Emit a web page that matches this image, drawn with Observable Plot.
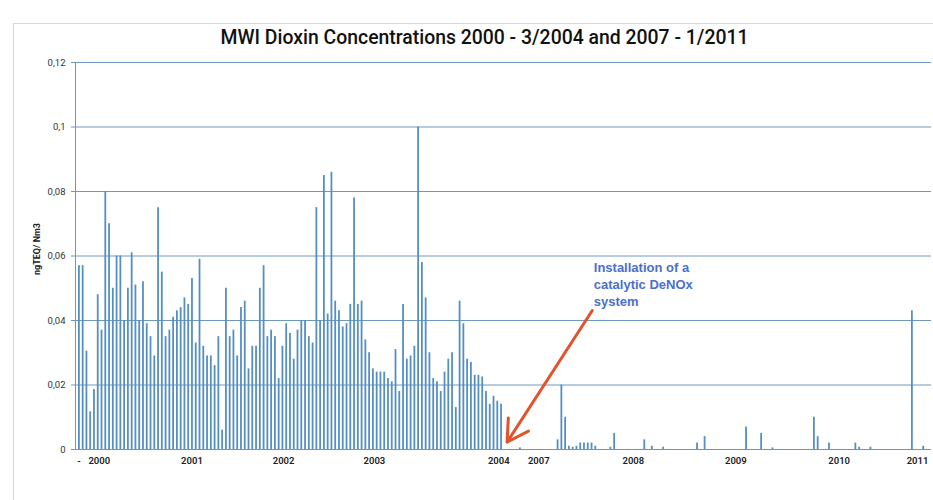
<!DOCTYPE html>
<html>
<head>
<meta charset="utf-8">
<script src="https://cdn.jsdelivr.net/npm/d3@7"></script>
<script src="https://cdn.jsdelivr.net/npm/@observablehq/plot@0.6"></script>
<style>
  body { margin: 0; background: #fff; }
  #wrap { position: relative; width: 933px; height: 500px; overflow: hidden; font-family: Roboto, "Liberation Sans", sans-serif; }
  #frame { position: absolute; left: 13px; top: 23px; width: 940px; height: 500px; border: 1px solid #d3d7de; }
  #title { position: absolute; left: 18px; width: 933px; top: 26px; text-align: center; font-size: 19.4px; font-weight: 500; color: #111; white-space: nowrap; }
  #chart { position: absolute; left: 0; top: 55px; }
</style>
</head>
<body>
<div id="wrap">
  <div id="frame"></div>
  <div id="title">MWI Dioxin Concentrations 2000 - 3/2004 and 2007 - 1/2011</div>
  <div id="chart"></div>
</div>
<script>
// Period 1: consecutive samples 2000 – 3/2004 (ngTEQ/Nm3), one per slot starting at slot 0
const period1Values = [
  0.057, 0.057, 0.0305, 0.0117, 0.0186, 0.048, 0.037, 0.080, 0.070, 0.050,
  0.060, 0.060, 0.040, 0.050, 0.061, 0.051, 0.040, 0.052, 0.039, 0.035,
  0.029, 0.075, 0.055, 0.035, 0.037, 0.041, 0.043, 0.044, 0.047, 0.045,
  0.053, 0.033, 0.059, 0.032, 0.029, 0.029, 0.026, 0.035, 0.006, 0.050,
  0.035, 0.037, 0.029, 0.044, 0.046, 0.025, 0.032, 0.032, 0.050, 0.057,
  0.035, 0.037, 0.035, 0.022, 0.032, 0.039, 0.036, 0.028, 0.037, 0.040,
  0.040, 0.035, 0.033, 0.075, 0.040, 0.085, 0.042, 0.086, 0.046, 0.043,
  0.038, 0.039, 0.045, 0.078, 0.045, 0.046, 0.034, 0.030, 0.025, 0.024,
  0.024, 0.024, 0.022, 0.021, 0.031, 0.018, 0.045, 0.028, 0.029, 0.032,
  0.100, 0.058, 0.047, 0.030, 0.022, 0.021, 0.018, 0.024, 0.028, 0.030,
  0.013, 0.046, 0.039, 0.028, 0.027, 0.023, 0.023, 0.0225, 0.018, 0.014,
  0.0165, 0.015, 0.014
];

// Period 2: 2007 – 1/2011 samples (slot index on the category axis, value)
const period2Slots  = [117, 127, 128, 129, 130, 131, 132, 133, 134, 135, 136, 137, 141, 142, 150, 152, 155, 164, 166, 177, 181, 184, 195, 196, 199, 206, 207, 210, 221, 224];
const period2Values = [0.0005, 0.003, 0.020, 0.010, 0.001, 0.0007, 0.001, 0.002, 0.002, 0.002, 0.002, 0.001, 0.0007, 0.005, 0.003, 0.001, 0.0007, 0.002, 0.004, 0.007, 0.005, 0.0005, 0.010, 0.004, 0.002, 0.002, 0.0007, 0.0007, 0.043, 0.001];

// Category axis labels and their slot positions
const xTickLabels = ["-", "2000", "2001", "2002", "2003", "2004", "2007", "2008", "2009", "2010", "2011"];
const xTickSlots  = [0, 5.4, 30, 54.3, 78.4, 111.4, 122, 147.1, 174.3, 201.7, 222.5];

// Value axis
const yTicks = [0, 0.02, 0.04, 0.06, 0.08, 0.1, 0.12];
const yTickLabels = ["0", "0,02", "0,04", "0,06", "0,08", "0,1", "0,12"];
const yLabel = "ngTEQ/ Nm3";

// Annotation
const noteText = "Installation of a\ncatalytic DeNOx\nsystem";
const noteAt = {slot: 136.6, value: 0.0588};
const arrowFrom = {slot: 136.2, value: 0.0431};
const arrowTo = {slot: 113.6, value: 0.0023};

// ---- build
const bars = [
  ...period1Values.map((v, i) => ({slot: i, value: v})),
  ...period2Slots.map((s, i) => ({slot: s, value: period2Values[i]}))
];
const xTicks = xTickLabels.map((l, i) => ({label: l, slot: xTickSlots[i]}));
const xDomain = [-0.9, 226.2];

const gridColor = "#6f98bf";
const axisColor = "#6f95b8";
const barColor = "#558fc2";

const chart = Plot.plot({
  width: 933,
  height: 445,
  marginLeft: 75,
  marginRight: 2,
  marginTop: 7,
  marginBottom: 51,
  x: {type: "linear", domain: xDomain, axis: null},
  y: {domain: [0, 0.12], axis: null},
  style: {fontFamily: "Roboto, 'Liberation Sans', sans-serif", background: "transparent", color: "#222"},
  marks: [
    Plot.gridY(yTicks.filter(d => d > 0), {stroke: gridColor, strokeOpacity: 1, strokeWidth: 1}),
    Plot.axisY(yTicks, {
      tickFormat: d => yTickLabels[yTicks.indexOf(d)],
      tickSize: 4, tickPadding: 6, stroke: axisColor, fontSize: 9.5, fill: "#333", label: null
    }),
    Plot.ruleX([xDomain[0]], {stroke: axisColor, strokeWidth: 1}),
    Plot.ruleX(bars, {x: "slot", y1: 0, y2: "value", stroke: barColor, strokeWidth: 1.8}),
    Plot.ruleY([0], {stroke: axisColor, strokeWidth: 1}),
    Plot.text(xTicks, {x: "slot", text: "label", frameAnchor: "bottom", dy: 14, fontSize: 9.5, fill: "#222", fontWeight: 600}),
    Plot.text([yLabel], {frameAnchor: "left", textAnchor: "middle", rotate: -90, dx: -38, dy: -7, fontSize: 9, fontWeight: "bold", fill: "#222"}),
    Plot.arrow([{}], {
      x1: () => arrowFrom.slot, y1: () => arrowFrom.value,
      x2: () => arrowTo.slot, y2: () => arrowTo.value,
      stroke: "#e2532d", strokeWidth: 3, headLength: 12
    }),
    Plot.text([noteText], {
      x: () => noteAt.slot, y: () => noteAt.value, text: d => d,
      textAnchor: "start", lineAnchor: "top", lineHeight: 1.3,
      fill: "#4a6fd0", fontWeight: "bold", fontSize: 13,
      fontFamily: "'Liberation Sans', Arial, sans-serif"
    })
  ]
});
document.getElementById("chart").appendChild(chart);
</script>
</body>
</html>
